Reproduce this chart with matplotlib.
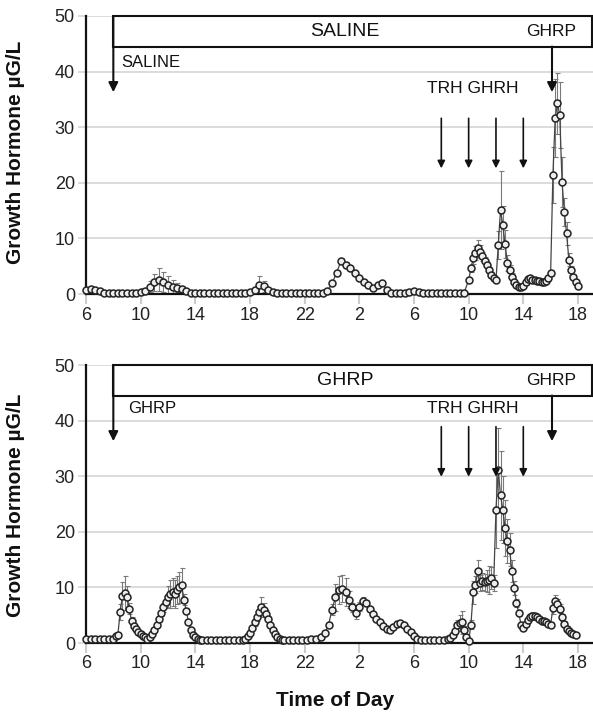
import numpy as np
import matplotlib
matplotlib.use("Agg")
import matplotlib.pyplot as plt
from matplotlib.patches import Rectangle

plt.rcParams['font.family'] = ['Liberation Sans', 'DejaVu Sans']


def grid(start_h, n, step_min):
    # sampling times in hours from 6:00 on day 1
    return start_h + np.arange(n) * step_min / 60.0


# x ticks: clock hours over the 36 h study
tick_pos = [6, 10, 14, 18, 22, 26, 30, 34, 38, 42]
tick_lab = ["6", "10", "14", "18", "22", "2", "6", "10", "14", "18"]

# ---- top panel: saline infusion ----
top_t = np.concatenate([grid(6, 84, 20), grid(34, 49, 10)])
top_v = ([0.8, 0.9, 0.8, 0.5] + [0.2] * 8 + [0.3]
         + [0.6, 1.3, 2.1, 2.6, 2.1, 1.7, 1.3, 1.1, 0.9, 0.5, 0.2]
         + [0.1] * 12
         + [0.3, 0.8, 1.7, 1.4, 0.8, 0.3]
         + [0.1] * 11
         + [0.5, 1.9, 3.8, 6.0, 5.2, 4.6, 3.7, 2.8, 2.2, 1.6, 1.0, 1.6, 2.0, 0.7, 0.2]
         + [0.2, 0.2, 0.2, 0.3, 0.5, 0.4] + [0.2] * 10
         # 10 min samples from 10:00 day 2
         + [2.5, 4.6, 6.4, 7.4, 8.2, 7.6, 6.8, 6.0, 5.2, 4.3, 3.4, 2.8]
         + [2.5, 8.8, 15.1, 12.4, 9.0, 5.6, 4.3, 3.1, 2.2, 1.6, 1.3, 1.2]
         + [1.5, 2.1, 2.7, 2.8, 2.6, 2.5, 2.4, 2.3, 2.2, 2.2, 2.3, 2.8]
         + [3.8, 21.4, 31.7, 34.3, 32.2, 20.2, 14.8, 10.9, 6.2, 4.3, 3.1, 2.2]
         + [1.4])
top_e = ([0] * 14 + [1.0, 1.5, 2.0, 1.8, 1.5, 1.2, 0.8, 0.5]
         + [0] * 15 + [0.5, 1.5, 1.0]
         + [0] * 15 + [0.4, 0.5, 0.5, 0.4]
         + [0] * 25
         + [0.3, 0.6, 1.0, 1.2, 1.5, 1.2, 0.8, 0.6, 0.6, 0.5, 0.5, 0.4]
         + [0.4, 2.5, 7.0, 3.5, 2.5, 1.5, 1.0, 0.6, 0.4, 0.3, 0.3, 0.3]
         + [0.3, 0.4, 0.5, 0.5, 0.4, 0.4, 0.4, 0.3, 0.3, 0.3, 0.4, 0.5]
         + [0.6, 5.0, 7.0, 5.5, 6.0, 4.5, 2.5, 2.0, 1.2, 0.8, 0.5, 0.4]
         + [0.3])

# ---- bottom panel: GHRP infusion ----
bot_t = np.concatenate([grid(6, 6, 20), grid(8, 39, 10), grid(14.5, 9, 20),
                        grid(17.5, 18, 10), grid(20.5, 9, 20), grid(23.5, 28, 15),
                        grid(30.5, 6, 20), grid(32.5, 57, 10)])
bot_v = ([0.7] * 6
         + [0.7, 1.2, 1.5, 5.6, 8.5, 9.0, 8.3, 6.2, 3.9, 3.1,
            2.5, 2.0, 1.6, 1.3, 1.0, 0.8, 1.1, 1.6, 2.3, 3.2,
            4.3, 5.4, 6.4, 7.4, 8.3, 8.8, 9.2, 8.8, 9.5, 10.0,
            10.4, 7.8, 5.8, 3.8, 2.4, 1.5, 1.0, 0.7, 0.6]
         + [0.6] * 9
         + [0.6, 0.8, 1.2, 1.8, 2.7, 3.7, 4.7, 5.6, 6.4, 6.0, 5.2, 4.3, 3.3, 2.4, 1.6, 1.1, 0.8, 0.6]
         + [0.6, 0.6, 0.6, 0.6, 0.6, 0.6, 0.7, 0.8, 1.0]
         + [1.8, 3.3, 6.0, 8.2, 9.5, 9.8, 9.2, 7.8, 6.4, 5.4,
            6.5, 7.6, 7.2, 6.1, 5.2, 4.4, 3.7, 3.1, 2.6, 2.4,
            2.8, 3.5, 3.6, 3.2, 2.6, 1.9, 1.2, 0.7]
         + [0.6] * 6
         + [0.7, 0.9, 1.4, 2.2, 3.2, 3.6, 3.7, 2.4, 1.1]
         + [0.3, 3.3, 9.1, 10.5, 12.9, 10.8, 11.1, 10.9, 11.2, 11.4, 11.7, 10.8,
            24.0, 31.1, 26.6, 24.0, 20.7, 18.3, 16.8, 12.9, 9.9, 7.2, 5.4, 3.3]
         + [2.7, 3.5, 4.2, 4.7, 4.9, 4.8, 4.6, 4.3, 4.0, 3.9, 3.7, 3.5, 3.3]
         + [6.3, 7.5, 7.0, 6.2, 4.6, 3.4, 2.6, 2.1, 1.8, 1.6, 1.4])
bot_e = ([0] * 6
         + [0, 0, 0.3, 1.5, 2.5, 3.0, 2.0, 1.0, 0.7, 0.4,
            0.3, 0.2, 0, 0, 0, 0, 0, 0.2, 0.3, 0.4,
            0.5, 0.6, 0.8, 1.0, 2.0, 2.5, 2.5, 2.5, 2.5, 2.8,
            3.0, 1.0, 0.5, 0.4, 0.3, 0, 0, 0, 0]
         + [0] * 9
         + [0, 0, 0, 0.2, 0.4, 0.6, 0.8, 1.0, 1.8, 1.2, 0.8, 0.5, 0.3, 0, 0, 0, 0, 0]
         + [0] * 9
         + [0, 0.4, 1.0, 2.5, 2.5, 2.5, 2.5, 1.5, 0.8, 1.0,
            0.8, 0.6, 0.6, 0.4, 0.3, 0.3, 0.2, 0.2, 0.2, 0.2,
            0.3, 0.3, 0.3, 0.2, 0.2, 0, 0, 0]
         + [0] * 6
         + [0, 0, 0.2, 0.5, 1.0, 1.5, 2.0, 0.6, 0.2]
         + [0, 0.8, 2.0, 1.5, 2.0, 1.5, 1.5, 1.5, 2.0, 2.5, 2.0, 1.5,
            7.0, 7.5, 8.0, 6.0, 5.0, 4.0, 3.0, 2.0, 1.2, 0.8, 0.5, 0.3]
         + [0.3, 0.4, 0.5, 0.6, 0.6, 0.6, 0.5, 0.5, 0.5, 0.5, 0.5, 0.5, 0.5]
         + [1.0, 1.2, 1.0, 0.8, 0.6, 0.5, 0.4, 0.3, 0.2, 0.2, 0.2])

# injection times (hours from 6:00 day 1)
trh_ghrh_times = [32, 34, 36, 38]
ghrp_bolus = 40.1


def arrow(ax, x, y0, y1, lw=1.5, ms=14):
    ax.annotate('', xy=(x, y1), xytext=(x, y0),
                arrowprops=dict(arrowstyle='-|>', color='#111', lw=lw,
                                mutation_scale=ms, shrinkA=0, shrinkB=0),
                annotation_clip=False, zorder=6)


def panel(ax, t, v, e, infusion, small_y, small_lab_y, side_lab_x):
    t = np.asarray(t); v = np.asarray(v); e = np.asarray(e)
    ax.set_xlim(6, 43.1)
    ax.set_ylim(0, 50)
    ax.set_xticks(tick_pos)
    ax.set_xticklabels(tick_lab)
    ax.set_yticks([0, 10, 20, 30, 40, 50])
    ax.grid(axis='y', color='#d9d9d9', lw=1.3)
    ax.set_axisbelow(True)
    for s in ['top', 'right']:
        ax.spines[s].set_visible(False)
    for s in ['left', 'bottom']:
        ax.spines[s].set_color('#111')
        ax.spines[s].set_linewidth(1.6)
    ax.tick_params(axis='x', color='#cccccc', length=7, width=1.5,
                   labelsize=13, pad=2, labelcolor='#222')
    ax.tick_params(axis='y', color='#d9d9d9', length=6, width=1.3,
                   labelsize=13, pad=2, labelcolor='#222')

    m = e > 0
    ax.errorbar(t[m], v[m], yerr=e[m], fmt='none', ecolor='#7a7a7a',
                elinewidth=0.8, capsize=1.8, capthick=0.8, zorder=2)
    ax.plot(t, v, '-', color='#444444', lw=0.9, zorder=3)
    ax.plot(t, v, 'o', ms=5.0, mfc='#eeeeee', mec='#222222', mew=1.1,
            zorder=4, clip_on=False)

    # infusion box + arrows
    ax.add_patch(Rectangle((8, 44.5), 43.0 - 8, 5.5, facecolor='white',
                           edgecolor='#111', lw=1.5, clip_on=False, zorder=5))
    arrow(ax, 8, 50, 36.3)
    arrow(ax, ghrp_bolus, 44.5, 36.3)
    for x in trh_ghrh_times:
        arrow(ax, x, small_y[0], small_y[1], lw=1.2, ms=11)
    ax.text(24.95, 47.2, infusion, ha='center', va='center', fontsize=14,
            color='#111', zorder=7)
    ax.text(40.0, 47.2, 'GHRP', ha='center', va='center', fontsize=12.5,
            color='#111', zorder=7)
    ax.text(side_lab_x, small_lab_y[0], infusion, ha='left', va='center',
            fontsize=12, color='#111', zorder=7)
    ax.text(34.27, small_lab_y[1], 'TRH GHRH', ha='center', va='center',
            fontsize=12.5, color='#111', zorder=7)


fig = plt.figure(figsize=(5.93, 7.12), dpi=100)
ax1 = fig.add_axes([86 / 593, 1 - 294 / 712, 507 / 593, 278 / 712])
ax2 = fig.add_axes([86 / 593, 1 - 643 / 712, 507 / 593, 278 / 712])

panel(ax1, top_t, top_v, top_e, 'SALINE', (31.6, 22.6), (41.7, 37.0), 8.6)
panel(ax2, bot_t, bot_v, bot_e, 'GHRP', (38.9, 29.9), (42.1, 42.2), 9.07)

fig.text(16 / 593, 1 - 152 / 712, 'Growth Hormone µG/L', rotation=90,
         ha='center', va='center', fontsize=15, fontweight='bold', color='#111')
fig.text(16 / 593, 1 - 505 / 712, 'Growth Hormone µG/L', rotation=90,
         ha='center', va='center', fontsize=15, fontweight='bold', color='#111')
fig.text(335 / 593, 1 - 701 / 712, 'Time of Day', ha='center', va='center',
         fontsize=15, fontweight='bold', color='#111')

fig.savefig('out.png', dpi=100)
